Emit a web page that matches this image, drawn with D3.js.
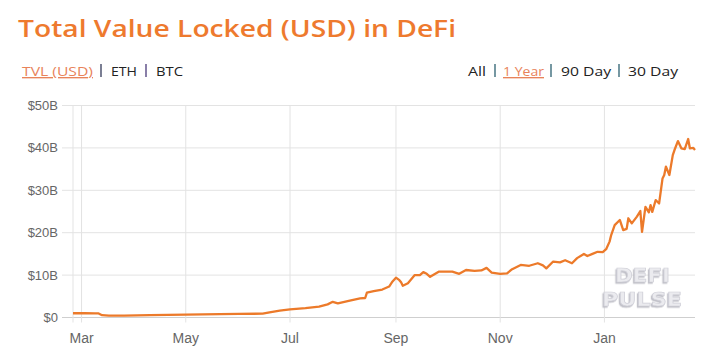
<!DOCTYPE html>
<html><head><meta charset="utf-8">
<script src="https://cdn.jsdelivr.net/npm/d3@7"></script>
<style>
html,body{margin:0;padding:0;background:#fff;}
svg{display:block;}
</style></head>
<body>
<svg id="c" width="710" height="355"></svg>
<script>
const dates = ["2020-02-25","2020-03-03","2020-03-09","2020-03-11","2020-03-13","2020-03-17","2020-03-26","2020-04-10","2020-05-01","2020-05-21","2020-06-01","2020-06-15","2020-06-19","2020-06-25","2020-07-01","2020-07-10","2020-07-18","2020-07-23","2020-07-26","2020-07-29","2020-08-05","2020-08-11","2020-08-14","2020-08-15","2020-08-19","2020-08-24","2020-08-28","2020-08-30","2020-09-01","2020-09-03","2020-09-04","2020-09-05","2020-09-08","2020-09-12","2020-09-15","2020-09-17","2020-09-19","2020-09-21","2020-09-26","2020-10-04","2020-10-08","2020-10-12","2020-10-17","2020-10-21","2020-10-24","2020-10-27","2020-11-01","2020-11-05","2020-11-08","2020-11-13","2020-11-18","2020-11-23","2020-11-26","2020-11-28","2020-12-02","2020-12-06","2020-12-09","2020-12-13","2020-12-16","2020-12-20","2020-12-22","2020-12-25","2020-12-28","2020-12-31","2021-01-02","2021-01-04","2021-01-05","2021-01-07","2021-01-10","2021-01-12","2021-01-14","2021-01-15","2021-01-17","2021-01-20","2021-01-22","2021-01-23","2021-01-25","2021-01-27","2021-01-28","2021-01-29","2021-01-31","2021-02-02","2021-02-04","2021-02-05","2021-02-06","2021-02-08","2021-02-10","2021-02-11","2021-02-13","2021-02-15","2021-02-17","2021-02-19","2021-02-20","2021-02-22","2021-02-23"];
const tvl = [1.0,1.0,0.98,0.95,0.55,0.45,0.45,0.55,0.7,0.8,0.85,0.9,1.2,1.6,1.9,2.2,2.55,3.1,3.7,3.35,4.0,4.5,4.6,5.85,6.2,6.6,7.3,8.5,9.4,8.8,8.3,7.5,8.1,10.0,10.0,10.7,10.3,9.6,10.8,10.8,10.3,11.2,11.0,11.1,11.7,10.6,10.3,10.4,11.4,12.4,12.2,12.8,12.3,11.6,13.2,13.0,13.5,12.8,14.0,15.0,14.5,15.0,15.5,15.4,16.1,17.9,19.5,21.8,23.0,20.6,20.9,23.4,22.2,23.8,25.1,20.2,26.1,24.8,26.5,24.9,27.7,26.9,32.8,33.6,35.6,33.6,38.3,39.5,41.6,39.9,39.7,42.1,39.9,40.0,39.5];
const yTicks = [0,10,20,30,40,50];
const xTickDates = ["2020-03-01","2020-05-01","2020-07-01","2020-09-01","2020-11-01","2021-01-01"];
const xTickLabels = ["Mar","May","Jul","Sep","Nov","Jan"];
const leftTabs = ["TVL (USD)","ETH","BTC"];
const rightTabs = ["All","1 Year","90 Day","30 Day"];

const parse = d3.timeParse("%Y-%m-%d");
const data = dates.map((d,i)=>({d:parse(d), v:tvl[i]}));
const svg = d3.select("#c");
const L=73, R=695, T=105.5, B=317.5;
const x = d3.scaleTime().domain([parse("2020-02-25"), parse("2021-02-23")]).range([L,R]);
const y = d3.scaleLinear().domain([0,50]).range([B,T]);

const defs = svg.append("defs");
const f = defs.append("filter").attr("id","sh").attr("x","-20%").attr("y","-20%").attr("width","140%").attr("height","140%");
f.append("feDropShadow").attr("dx",-1.2).attr("dy",1.5).attr("stdDeviation",0.4).attr("flood-color","#b9b9c2").attr("flood-opacity",0.9);

// title
svg.append("text").attr("x",18).attr("y",37).attr("fill","#ee7a2e")
  .attr("font-family","'Open Sans', Inter, sans-serif").attr("font-weight",600).attr("font-size",24)
  .attr("textLength",438).attr("lengthAdjust","spacingAndGlyphs")
  .text("Total Value Locked (USD) in DeFi");

const tf = "'Open Sans', Inter, sans-serif";
function tab(txt, x0, w, active){
  const t = svg.append("text").attr("x",x0).attr("y",76).attr("font-family",tf).attr("font-size",13.5)
    .attr("fill",active?"#e8835a":"#222").attr("textLength",w).attr("lengthAdjust","spacingAndGlyphs").text(txt);
  if(active) t.attr("text-decoration","underline");
}
function sep(x0, c){
  svg.append("line").attr("x1",x0).attr("x2",x0).attr("y1",64).attr("y2",77).attr("stroke",c).attr("stroke-width",1.3);
}
tab(leftTabs[0],22,71,true); sep(101,"#333a5a");
tab(leftTabs[1],111,26,false); sep(146,"#4a3a7a");
tab(leftTabs[2],156,27,false);

tab(rightTabs[0],468,18,false); sep(495,"#2c6070");
tab(rightTabs[1],503,41,true); sep(551,"#2c6070");
tab(rightTabs[2],561,50,false); sep(619,"#2c6070");
tab(rightTabs[3],628,50,false);

// gridlines
const g = svg.append("g");
g.selectAll(".hg").data(yTicks).join("line")
  .attr("x1",62).attr("x2",R).attr("y1",d=>y(d)).attr("y2",d=>y(d))
  .attr("stroke",d=>d===0?"#cfcfcf":"#e3e3e3").attr("stroke-width",1);
g.selectAll(".vg").data(xTickDates).join("line")
  .attr("x1",d=>x(parse(d))).attr("x2",d=>x(parse(d))).attr("y1",T).attr("y2",B+5)
  .attr("stroke","#e3e3e3").attr("stroke-width",1);
g.append("line").attr("x1",L).attr("x2",L).attr("y1",T).attr("y2",B+5).attr("stroke","#e3e3e3");

// y labels
svg.selectAll(".yl").data(yTicks).join("text")
  .attr("x",58).attr("y",d=>y(d)).attr("dy","0.35em").attr("text-anchor","end")
  .attr("font-family","'Liberation Sans', Arial, sans-serif").attr("font-size",13).attr("fill","#666")
  .text(d=>d===0?"$0":"$"+d+"B");
// x labels
svg.selectAll(".xl").data(xTickDates).join("text")
  .attr("x",d=>x(parse(d))).attr("y",343).attr("text-anchor","middle")
  .attr("font-family","'Liberation Sans', Arial, sans-serif").attr("font-size",14).attr("fill","#666")
  .text((d,i)=>xTickLabels[i]);

// watermark
const wm = svg.append("g").attr("font-family","'DejaVu Sans', sans-serif").attr("font-weight",700)
  .attr("font-size",19).attr("filter","url(#sh)")
  .attr("fill","#ebebef").attr("stroke","#d0d0d8").attr("stroke-width",0.7);
wm.append("text").attr("x",615).attr("y",282).attr("textLength",55).attr("lengthAdjust","spacingAndGlyphs").text("DEFI");
wm.append("text").attr("x",602).attr("y",306).attr("textLength",80).attr("lengthAdjust","spacingAndGlyphs").text("PULSE");

// line
svg.append("path").datum(data)
  .attr("fill","none").attr("stroke","#ec7a2a").attr("stroke-width",2.3).attr("stroke-linejoin","round")
  .attr("d",d3.line().x(d=>x(d.d)).y(d=>y(d.v)));
</script>
</body></html>
